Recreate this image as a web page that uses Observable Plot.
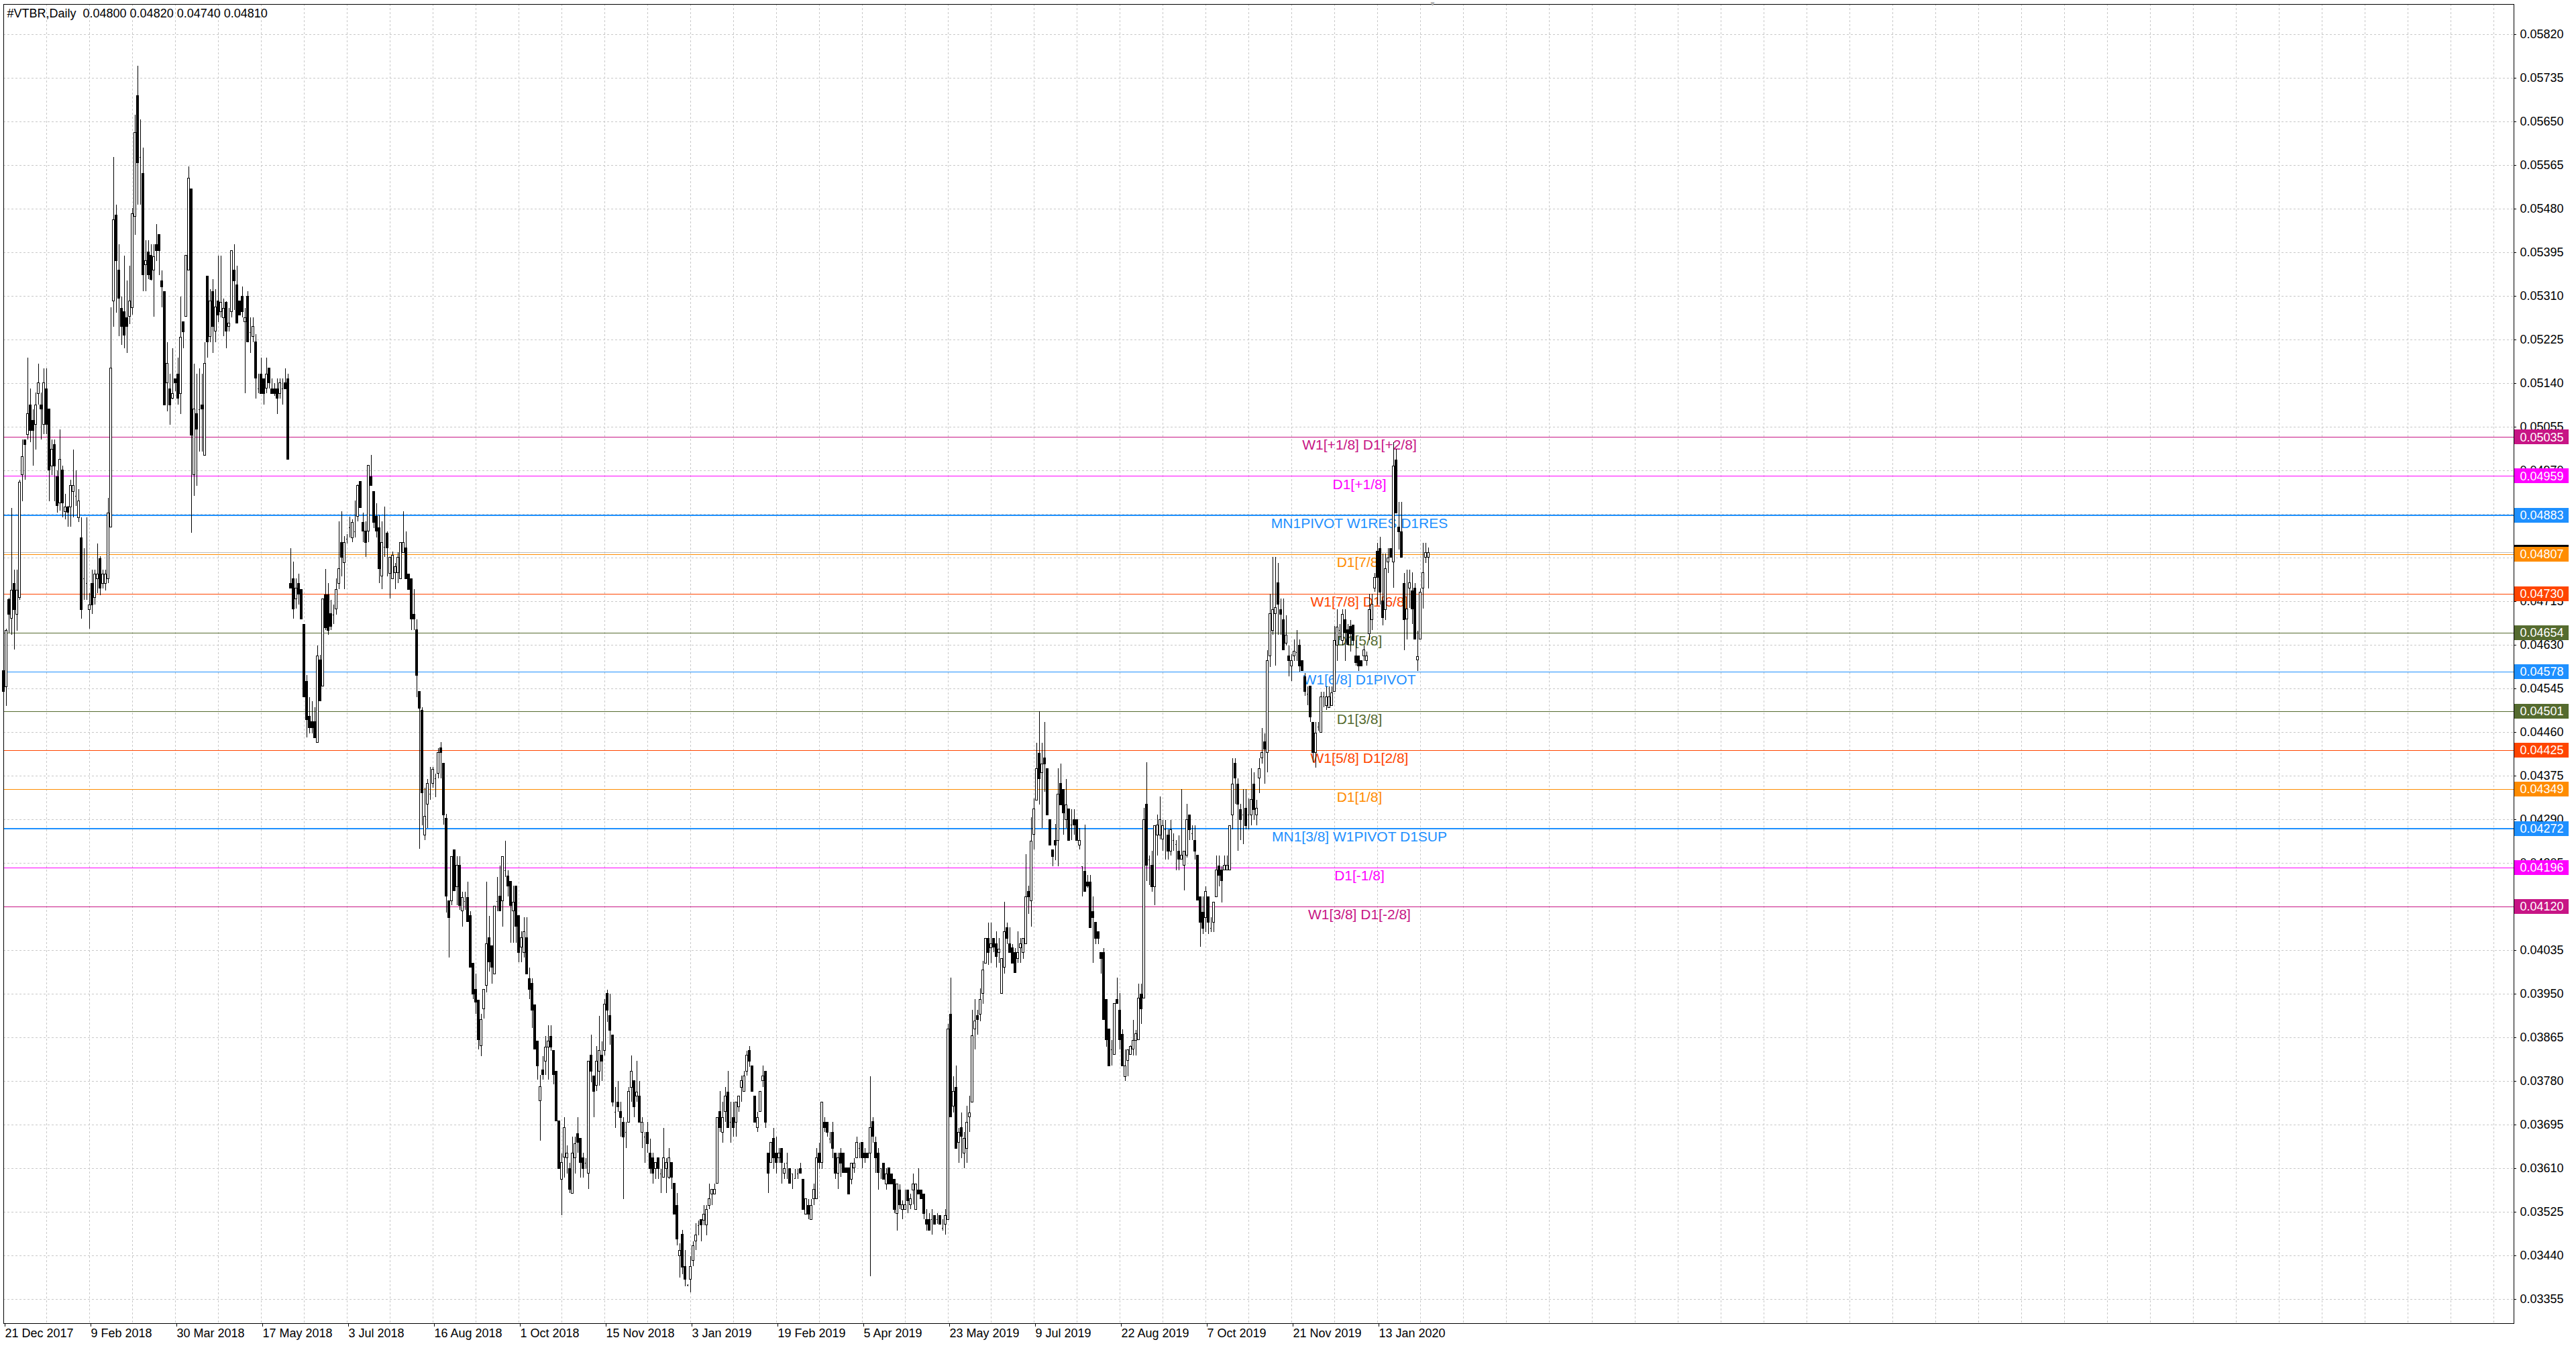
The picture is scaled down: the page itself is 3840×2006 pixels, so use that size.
<!DOCTYPE html>
<html>
<head>
<meta charset="utf-8">
<script src="https://cdn.jsdelivr.net/npm/d3@7"></script>
<script src="https://cdn.jsdelivr.net/npm/@observablehq/plot@0.6"></script>
<style>
  html, body { margin: 0; padding: 0; background: white; overflow: hidden; }
</style>
</head>
<body>
<div id="chart"></div>
<script>
// daily candles, prices in 1e-5 units (0.04810 -> 4810)
const opens = [
  4580,4548,4718,4681,4750,4690,4722,4961,5030,5040, 5098,5068,5059,5120,5098,5059,5129,5089,4979,5020,
  4958,4906,4970,4890,4899,4899,4929,4920,4878,4839, 4759,4750,4699,4750,4722,4759,4798,4750,4750,4759,
  4860,5300,5468,5360,5286,5279,5268,5270,5287,5465, 5700,5580,5548,5371,5395,5389,5360,5410,5429,5340,
  5319,5140,5129,5110,5149,5158,5120,5259,5270,5360, 5518,4962,5080,5089,5098,5000,5349,5231,5319,5241,
  5300,5279,5268,5297,5250,5279,5360,5331,5300,5309, 5259,5309,5239,5231,5220,5130,5158,5149,5130,5169,
  5129,5129,5129,5120,5130,5140,5149,4750,4759,4720, 4750,4738,4670,4559,4491,4480,4480,4440,4601,4550,
  4727,4727,4691,4689,4700,4750,4830,4790,4837,4859, 4839,4851,4880,4949,4868,4851,4851,4958,4929,4880,
  4858,4764,4821,4848,4769,4759,4771,4771,4759,4810, 4819,4768,4759,4689,4659,4539,4503,4259,4319,4340,
  4360,4370,4380,4429,4399,4292,4131,4131,4230,4159, 4200,4111,4131,4138,4102,4010,3958,3938,3848,3920,
  3966,4059,4044,3989,4131,4140,4131,4190,4179,4169, 4111,4160,4102,4041,4030,4059,3980,3970,3929,3858,
  3741,3801,3819,3846,3867,3839,3799,3702,3589,3631, 3630,3609,3561,3630,3677,3668,3630,3621,3600,3830,
  3790,3771,3799,3830,3839,3950,3907,3870,3720,3739, 3720,3700,3680,3700,3768,3780,3750,3750,3680,3671,
  3680,3640,3630,3609,3630,3600,3592,3609,3592,3621, 3580,3538,3439,3481,3419,3382,3393,3430,3468,3499,
  3510,3508,3499,3538,3559,3559,3580,3720,3680,3720, 3759,3700,3709,3700,3730,3768,3760,3799,3839,3810,
  3750,3689,3720,3780,3799,3640,3621,3668,3640,3630, 3649,3600,3621,3609,3600,3591,3600,3609,3589,3521,
  3538,3510,3550,3550,3640,3621,3700,3700,3668,3680, 3640,3600,3639,3639,3610,3610,3589,3610,3630,3649,
  3660,3639,3639,3639,3701,3660,3639,3610,3620,3579, 3610,3599,3589,3522,3568,3530,3530,3568,3539,3568,
  3530,3568,3568,3560,3510,3510,3510,3518,3510,3518, 3493,3501,3510,3910,3731,3768,3660,3689,3639,3649,
  3710,3739,3881,3907,3910,3951,4010,4058,4039,4058, 4047,4031,3951,4001,4079,4047,4039,4031,4018,4039,
  4031,4047,4149,4131,4260,4327,4419,4381,4410,4389, 4289,4231,4249,4249,4360,4348,4289,4310,4279,4289,
  4289,4239,4199,4189,4168,4168,4110,4089,4071,4031, 4031,3939,3881,3841,3831,3939,3918,3871,3789,3820,
  3831,3842,3859,3861,3949,3941,4320,4212,4201,4159, 4259,4259,4251,4270,4259,4228,4249,4241,4228,4212,
  4201,4220,4299,4262,4249,4220,4139,4109,4099,4139, 4078,4089,4139,4199,4191,4191,4191,4191,4299,4399,
  4359,4309,4299,4312,4299,4299,4359,4299,4370,4409, 4441,4420,4609,4658,4691,4751,4699,4679,4633,4609,
  4589,4609,4616,4629,4599,4568,4535,4549,4479,4420, 4470,4459,4529,4512,4508,4512,4539,4629,4659,4639,
  4679,4659,4666,4668,4609,4609,4599,4609,4599,4651, 4679,4741,4812,4818,4716,4699,4791,4818,4791,4990,
  4860,4850,4749,4680,4740,4735,4740,4601,4641,4740, 4800,4800
];
const highs = [
  4607,4662,4722,4897,4777,4777,4952,5030,5030,5190, 5130,5089,5121,5178,5121,5169,5169,5089,5030,5030,
  4970,5050,4979,4924,4901,4952,5011,4970,4933,4878, 4818,4878,4731,4777,4777,4827,4802,4777,4777,4917,
  5288,5580,5488,5410,5309,5389,5340,5369,5481,5663, 5759,5654,5599,5419,5419,5410,5410,5450,5429,5360,
  5319,5220,5158,5208,5149,5190,5309,5259,5389,5562, 5518,5178,5158,5169,5158,5220,5349,5323,5342,5323,
  5389,5389,5305,5300,5286,5398,5410,5369,5300,5328, 5286,5319,5268,5268,5236,5158,5190,5149,5190,5169,
  5149,5140,5149,5149,5149,5169,5158,4818,4792,4759, 4769,4738,4670,4571,4528,4520,4509,4629,4610,4720,
  4778,4750,4718,4709,4759,4870,4890,4842,4846,4880, 4874,4911,4943,4949,4888,4870,4981,5000,4929,4906,
  4883,4870,4900,4851,4801,4812,4790,4810,4830,4890, 4851,4768,4759,4738,4680,4539,4509,4351,4369,4392,
  4392,4379,4429,4440,4399,4301,4131,4218,4230,4218, 4218,4149,4149,4168,4111,4010,3989,3938,3911,3958,
  4168,4102,4044,4120,4177,4200,4218,4248,4190,4169, 4160,4160,4102,4071,4099,4099,4001,3980,3929,3858,
  3792,3828,3867,3888,3888,3839,3799,3702,3639,3709, 3654,3621,3671,3671,3709,3668,3640,3630,3819,3870,
  3790,3848,3907,3857,3939,3958,3950,3870,3768,3780, 3739,3709,3700,3768,3830,3780,3819,3780,3709,3680,
  3700,3668,3640,3621,3630,3609,3689,3630,3649,3621, 3580,3561,3463,3490,3450,3384,3439,3468,3503,3508,
  3510,3538,3538,3580,3569,3580,3709,3760,3739,3768, 3799,3739,3739,3739,3750,3790,3799,3839,3848,3810,
  3750,3720,3760,3810,3799,3640,3660,3689,3671,3649, 3649,3621,3640,3609,3600,3609,3609,3621,3589,3550,
  3550,3550,3580,3649,3660,3739,3709,3700,3680,3700, 3640,3640,3649,3639,3610,3610,3620,3630,3672,3660,
  3660,3649,3639,3789,3710,3672,3649,3610,3620,3610, 3610,3599,3589,3579,3579,3547,3568,3568,3560,3599,
  3579,3610,3568,3560,3530,3522,3530,3518,3522,3518, 3510,3530,3891,3981,3789,3810,3689,3718,3680,3731,
  3751,3918,3939,3918,3960,4014,4058,4089,4089,4058, 4071,4058,4018,4129,4089,4079,4047,4039,4071,4058,
  4058,4222,4160,4294,4331,4439,4500,4439,4480,4389, 4289,4231,4281,4389,4399,4348,4369,4310,4310,4310,
  4289,4273,4199,4279,4181,4181,4139,4089,4071,4031, 4039,3939,3881,3860,3931,3981,3951,3881,3841,3841,
  3849,3899,3880,3970,3970,4312,4401,4220,4228,4278, 4299,4334,4289,4289,4270,4289,4262,4249,4259,4349,
  4228,4320,4299,4278,4278,4220,4139,4139,4159,4139, 4099,4128,4220,4220,4199,4220,4220,4278,4409,4409,
  4370,4320,4349,4349,4330,4389,4381,4328,4409,4468, 4458,4620,4729,4801,4801,4789,4720,4720,4687,4629,
  4612,4640,4659,4640,4599,4575,4549,4549,4479,4479, 4479,4539,4539,4549,4549,4549,4666,4699,4670,4699,
  4699,4670,4679,4668,4639,4609,4599,4629,4617,4729, 4729,4770,4829,4841,4808,4808,4818,4818,5025,5012,
  4908,4908,4770,4777,4777,4771,4750,4658,4740,4829, 4829,4820
];
const lows = [
  4419,4511,4653,4649,4621,4658,4718,4910,4952,5030, 5025,4979,5011,5098,5030,5040,5040,4910,4961,4910,
  4887,4892,4878,4874,4860,4860,4878,4901,4869,4681, 4718,4718,4662,4690,4708,4731,4727,4740,4736,4750,
  4860,5250,5277,5231,5215,5208,5199,5255,5273,5429, 5488,5488,5319,5319,5342,5340,5270,5378,5351,5288,
  5098,5085,5059,5108,5124,5098,5080,5208,5270,5360, 4848,4920,4940,5007,5007,5000,5190,5220,5199,5220,
  5259,5268,5231,5208,5241,5268,5282,5257,5273,5268, 5120,5220,5199,5220,5110,5120,5120,5098,5120,5130,
  5120,5115,5080,5110,5098,5129,4991,4740,4681,4700, 4709,4680,4528,4449,4457,4457,4449,4440,4521,4550,
  4659,4649,4659,4670,4689,4738,4764,4738,4828,4839, 4830,4839,4870,4897,4830,4801,4830,4940,4858,4839,
  4750,4738,4801,4764,4720,4759,4738,4750,4759,4810, 4759,4738,4659,4659,4528,4232,4278,4250,4273,4328,
  4351,4333,4370,4370,4280,4108,4021,4122,4151,4122, 4113,4081,4113,4090,4001,3940,3911,3842,3828,3901,
  3952,3993,3970,3989,4111,4111,4081,4177,4140,4050, 4050,4050,4012,4012,4021,3989,3940,3883,3842,3782,
  3663,3782,3792,3782,3839,3773,3702,3609,3518,3592, 3600,3561,3561,3600,3640,3592,3592,3609,3569,3777,
  3709,3760,3771,3780,3830,3895,3851,3730,3689,3720, 3671,3550,3649,3700,3739,3709,3739,3700,3649,3621,
  3640,3600,3580,3589,3589,3561,3592,3561,3589,3569, 3521,3459,3397,3403,3380,3380,3368,3419,3450,3479,
  3468,3499,3479,3530,3538,3559,3580,3680,3660,3700, 3689,3660,3671,3671,3720,3739,3760,3790,3808,3760,
  3700,3680,3720,3768,3689,3561,3621,3609,3600,3621, 3580,3589,3589,3580,3569,3589,3589,3600,3530,3521,
  3510,3510,3538,3550,3609,3609,3680,3671,3658,3630, 3589,3569,3593,3601,3601,3560,3579,3601,3630,3630,
  3610,3620,3630,3399,3660,3601,3568,3589,3589,3568, 3579,3579,3522,3489,3530,3510,3530,3522,3530,3539,
  3530,3560,3550,3510,3489,3489,3480,3501,3501,3501, 3489,3480,3510,3710,3718,3649,3620,3630,3610,3620,
  3680,3739,3841,3870,3897,3931,4010,4006,4010,4031, 4001,4010,3951,3989,4047,4031,4010,3991,4010,4010,
  4018,4047,4106,4081,4231,4327,4319,4273,4343,4298, 4239,4198,4210,4198,4318,4260,4273,4249,4249,4260,
  4249,4231,4139,4149,4157,4079,4010,4047,4047,3989, 3899,3847,3810,3810,3831,3931,3841,3810,3780,3789,
  3831,3830,3830,3861,3891,3941,4170,4162,4149,4122, 4220,4251,4228,4212,4212,4220,4228,4191,4191,4212,
  4151,4216,4249,4249,4212,4132,4041,4067,4070,4067, 4070,4070,4139,4159,4128,4191,4191,4191,4270,4320,
  4228,4249,4241,4270,4270,4278,4289,4278,4341,4399, 4359,4382,4587,4649,4589,4649,4649,4620,4629,4568,
  4559,4599,4599,4578,4579,4531,4512,4479,4401,4391, 4462,4459,4508,4503,4508,4512,4539,4599,4639,4629,
  4599,4629,4617,4629,4589,4579,4589,4599,4589,4639, 4659,4733,4708,4708,4668,4679,4770,4801,4741,4887,
  4816,4801,4620,4640,4702,4670,4641,4579,4641,4700, 4790,4740
];
const closes = [
  4539,4658,4690,4736,4699,4736,4947,4997,5020,5080, 5048,5048,5098,5140,5089,5140,5059,4970,5011,4979,
  4901,4991,4906,4899,4888,4940,4940,4920,4910,4699, 4759,4750,4708,4708,4768,4768,4740,4768,4768,4887,
  5169,5459,5378,5305,5250,5233,5250,5300,5470,5628, 5570,5580,5351,5378,5351,5342,5387,5398,5398,5328,
  5098,5178,5098,5120,5140,5110,5229,5240,5389,5539, 5039,5089,5050,5089,5089,5178,5220,5300,5250,5288,
  5273,5297,5286,5241,5257,5398,5340,5257,5273,5279, 5268,5220,5239,5250,5150,5130,5120,5120,5158,5140,
  5120,5120,5110,5140,5130,5129,4991,4740,4700,4741, 4729,4680,4528,4484,4469,4469,4449,4608,4521,4720,
  4663,4658,4666,4689,4738,4778,4801,4830,4837,4859, 4868,4851,4940,4897,4851,4830,4980,4940,4869,4851,
  4778,4830,4821,4819,4801,4805,4782,4801,4830,4830, 4759,4738,4680,4680,4571,4507,4342,4296,4360,4340,
  4388,4370,4420,4420,4298,4140,4099,4218,4151,4200, 4122,4138,4131,4090,4001,3949,3934,3860,3899,3958,
  4048,4012,4001,4120,4131,4111,4218,4190,4160,4122, 4129,4081,4030,4059,4071,3989,3958,3918,3842,3810,
  3769,3792,3846,3858,3846,3792,3702,3609,3621,3689, 3639,3569,3639,3658,3660,3621,3609,3621,3819,3799,
  3760,3819,3839,3819,3930,3918,3879,3739,3720,3730, 3709,3671,3680,3760,3799,3730,3759,3700,3700,3671,
  3658,3609,3600,3621,3609,3600,3630,3621,3630,3592, 3521,3472,3450,3417,3393,3382,3419,3459,3480,3499,
  3499,3521,3530,3550,3569,3569,3709,3689,3709,3750, 3689,3700,3689,3739,3750,3780,3790,3830,3819,3760,
  3700,3709,3760,3790,3700,3600,3660,3630,3621,3640, 3621,3609,3621,3580,3600,3591,3600,3600,3530,3550,
  3521,3538,3569,3630,3621,3739,3689,3680,3668,3649, 3600,3630,3620,3601,3601,3560,3620,3620,3660,3649,
  3630,3630,3630,3689,3672,3630,3601,3610,3589,3599, 3579,3579,3530,3579,3539,3539,3539,3547,3550,3579,
  3579,3560,3550,3522,3501,3489,3510,3501,3510,3501, 3493,3518,3881,3710,3760,3649,3680,3672,3668,3699,
  3718,3868,3897,3899,3939,3997,4058,4031,4047,4041, 4022,4037,4018,4071,4058,4031,4010,3991,4031,4047,
  4058,4139,4139,4248,4310,4389,4369,4398,4398,4298, 4239,4218,4239,4339,4318,4302,4318,4249,4279,4279,
  4249,4249,4199,4149,4160,4079,4099,4058,4058,4018, 3899,3860,3810,3841,3931,3931,3860,3810,3810,3841,
  3847,3859,3872,3941,3920,4289,4201,4212,4159,4278, 4279,4289,4278,4270,4228,4270,4249,4241,4212,4220,
  4228,4289,4270,4262,4228,4132,4089,4078,4149,4089, 4078,4128,4191,4181,4170,4201,4201,4278,4359,4370,
  4320,4289,4299,4278,4299,4328,4309,4312,4389,4420, 4426,4599,4691,4699,4703,4709,4689,4620,4649,4599,
  4599,4617,4616,4589,4579,4539,4535,4489,4420,4458, 4470,4529,4529,4529,4529,4537,4639,4664,4659,4689,
  4654,4631,4651,4639,4595,4589,4589,4620,4609,4699, 4709,4762,4762,4733,4683,4779,4799,4801,4979,4887,
  4850,4801,4679,4700,4751,4700,4641,4607,4733,4770, 4810,4810
];

// date labels every 32 bars
const dateLabels = ["21 Dec 2017","9 Feb 2018","30 Mar 2018","17 May 2018","3 Jul 2018","16 Aug 2018",
  "1 Oct 2018","15 Nov 2018","3 Jan 2019","19 Feb 2019","5 Apr 2019","23 May 2019","9 Jul 2019",
  "22 Aug 2019","7 Oct 2019","21 Nov 2019","13 Jan 2020"];

// price scale ticks
const yTicks = [0.05820,0.05735,0.05650,0.05565,0.05480,0.05395,0.05310,0.05225,0.05140,0.05055,
  0.04970,0.04885,0.04800,0.04715,0.04630,0.04545,0.04460,0.04375,0.04290,0.04205,0.04120,
  0.04035,0.03950,0.03865,0.03780,0.03695,0.03610,0.03525,0.03440,0.03355];

// pivot / murrey levels
const levelValues = [0.05035,0.04959,0.04883,0.04807,0.04730,0.04654,0.04578,0.04501,0.04425,0.04349,0.04272,0.04196,0.04120];
const levelNames = ["W1[+1/8] D1[+2/8]","D1[+1/8]","MN1PIVOT W1RES D1RES","D1[7/8]","W1[7/8] D1[6/8]",
  "D1[5/8]","W1[6/8] D1PIVOT","D1[3/8]","W1[5/8] D1[2/8]","D1[1/8]","MN1[3/8] W1PIVOT D1SUP",
  "D1[-1/8]","W1[3/8] D1[-2/8]"];
const levelColors = ["#C71585","#FF00FF","#1E90FF","#FF8C00","#FF4500","#556B2F","#1E90FF","#556B2F",
  "#FF4500","#FF8C00","#1E90FF","#FF00FF","#C71585"];

const title = "#VTBR,Daily\u00a0\u00a00.04800 0.04820 0.04740 0.04810";
const lastPrice = 0.04810;

const bars = opens.map((o, i) => ({i, o: o / 1e5, h: highs[i] / 1e5, l: lows[i] / 1e5, c: closes[i] / 1e5}));
const levels = levelValues.map((v, i) => ({v, name: levelNames[i], color: levelColors[i]}));
const current = [{v: lastPrice, color: "black"}];

const labelTicks = dateLabels.map((d, k) => k * 32);
const gridTicks = d3.range(16, 936, 16);
const font = "'Liberation Sans', Arial, sans-serif";
const half = 11 / 76470.6; // half a price box, in price units
const bw = 0.32;
const crisp = "crispEdges";

const priceBox = (data) => [
  Plot.rect(data, {x1: () => 935.75, x2: () => 956, y1: d => d.v - half, y2: d => d.v + half, fill: "color", shapeRendering: crisp}),
  Plot.text(data, {x: () => 937.75, y: "v", text: d => d.v.toFixed(5), fill: "white", textAnchor: "start", fontSize: 18})
];

let chart = Plot.plot({
  width: 3840,
  height: 2006,
  marginTop: 6,
  marginLeft: 5,
  marginRight: 93,
  marginBottom: 34,
  style: {fontFamily: font, fontSize: "18px", background: "white"},
  x: {domain: [0, 935.5], label: null},
  y: {domain: [0.033079, 0.058788], label: null},
  marks: [
    Plot.gridY(yTicks, {stroke: "#c8c8c8", strokeOpacity: 1, strokeDasharray: "3,3", shapeRendering: crisp}),
    Plot.gridX(gridTicks, {stroke: "#c8c8c8", strokeOpacity: 1, strokeDasharray: "3,3", shapeRendering: crisp}),
    Plot.ruleY([lastPrice], {stroke: "#c0c0c0", shapeRendering: crisp}),
    Plot.ruleY(levels, {y: "v", stroke: "color", strokeWidth: d => d.name.startsWith("MN1") ? 2 : 1, shapeRendering: crisp}),
    Plot.text(levels, {x: () => 505.25, y: "v", dy: 12, text: "name", fill: "color",
      fontSize: 21, textAnchor: "middle", lineAnchor: "middle"}),
    Plot.ruleX(bars, {x: "i", y1: "l", y2: "h", stroke: "black", shapeRendering: crisp}),
    Plot.rect(bars, {x1: d => d.i - bw, x2: d => d.i + bw, y1: "o", y2: "c",
      fill: d => d.c > d.o ? "white" : "black", stroke: "black", strokeWidth: 1, shapeRendering: crisp}),
    Plot.ruleY(bars.filter(d => d.o === d.c), {y: "o", x1: d => d.i - bw, x2: d => d.i + bw, stroke: "black", shapeRendering: crisp}),
    Plot.frame({stroke: "black", shapeRendering: crisp}),
    Plot.text([title], {frameAnchor: "top-left", dx: 5, dy: 14, textAnchor: "start", lineAnchor: "middle", fontSize: 18}),
    Plot.text(["\u25BC"], {frameAnchor: "top", x: () => 532.5, dy: -1, fill: "#b0b0b0", fontSize: 10, lineAnchor: "middle"}),
    Plot.axisY({anchor: "right", ticks: yTicks, tickFormat: d => d.toFixed(5), tickSize: 3, tickPadding: 6, fontSize: 18}),
    Plot.axisX({anchor: "bottom", ticks: labelTicks, tickFormat: d => dateLabels[d / 32], textAnchor: "start",
      tickSize: 5, tickPadding: 3, dx: 2, fontSize: 18}),
    ...priceBox(current),
    ...priceBox(levels)
  ]
})
d3.select('#chart').append(() => chart)
</script>
</body>
</html>
